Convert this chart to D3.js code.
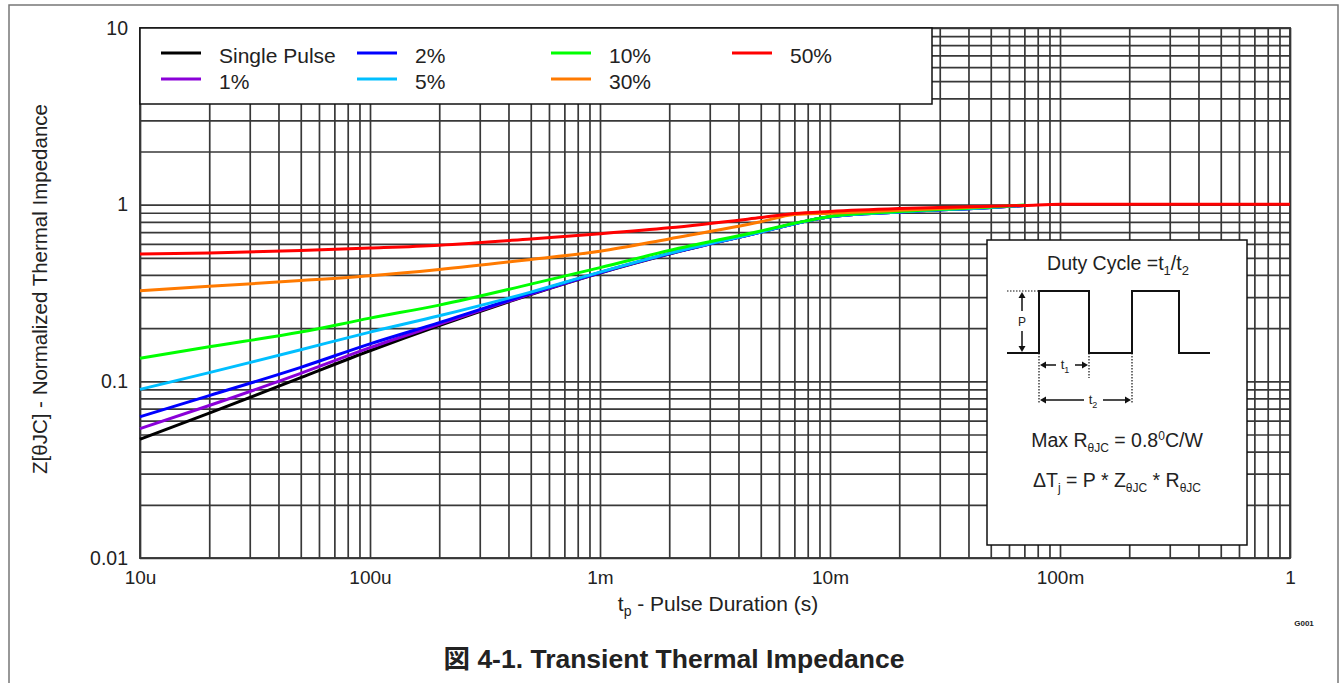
<!DOCTYPE html>
<html>
<head>
<meta charset="utf-8">
<script src="https://cdn.jsdelivr.net/npm/d3@7"></script>
<style>
  body { margin: 0; background: #fff; }
  text { font-family: "Liberation Sans", Arial, sans-serif; fill: #222; }
</style>
</head>
<body>
<script>
// pulse durations (s) at which the curves were read
var times = [1e-5, 2e-5, 5e-5, 1e-4, 2e-4, 5e-4, 1e-3, 2e-3, 5e-3, 7e-3, 1e-2, 2e-2, 5e-2, 7e-2, 1e-1, 1]

var single = [0.047, 0.066, 0.105, 0.149, 0.207, 0.31, 0.41, 0.525, 0.70, 0.78, 0.855, 0.91, 0.965, 0.99]
var duty1  = [0.054, 0.073, 0.111, 0.155, 0.21, 0.312, 0.412, 0.527, 0.70, 0.78, 0.855, 0.91, 0.965, 0.99]
var duty2  = [0.063, 0.083, 0.12, 0.163, 0.215, 0.315, 0.413, 0.528, 0.70, 0.78, 0.855, 0.91, 0.965, 0.99]
var duty5  = [0.09, 0.112, 0.151, 0.19, 0.235, 0.32, 0.415, 0.53, 0.70, 0.78, 0.855, 0.91, 0.965, 0.99]
var duty10 = [0.135, 0.157, 0.19, 0.228, 0.27, 0.355, 0.44, 0.55, 0.71, 0.785, 0.858, 0.915, 0.97, 0.995]
var duty30 = [0.326, 0.345, 0.372, 0.396, 0.43, 0.49, 0.545, 0.64, 0.80, 0.88, 0.895, 0.93, 0.975]
var duty50 = [0.526, 0.532, 0.55, 0.568, 0.59, 0.64, 0.685, 0.74, 0.845, 0.89, 0.915, 0.95, 0.98, 0.99, 1.005, 1.005]

var names  = ["Single Pulse", "1%", "2%", "5%", "10%", "30%", "50%"]
var colors = ["#000000", "#8a00d8", "#0000ff", "#00bfff", "#00ff00", "#ff7a00", "#ff0000"]
var series = [single, duty1, duty2, duty5, duty10, duty30, duty50]

var xTicks = [1e-5, 1e-4, 1e-3, 1e-2, 1e-1, 1]
var xTickLabels = ["10u", "100u", "1m", "10m", "100m", "1"]
var yTicks = [0.01, 0.1, 1, 10]
var yTickLabels = ["0.01", "0.1", "1", "10"]

var svg = d3.select("body").append("svg")
  .attr("width", 1340)
  .attr("height", 683)

// outer frame
svg.append("rect")
  .attr("x", 9).attr("y", 5)
  .attr("width", 1329).attr("height", 700)
  .attr("fill", "none").attr("stroke", "#777").attr("stroke-width", 1.5)

var pLeft = 140, pRight = 1290, pTop = 28, pBottom = 558

var x = d3.scaleLog().domain([1e-5, 1]).range([pLeft, pRight])
var y = d3.scaleLog().domain([0.01, 10]).range([pBottom, pTop])

// minor + major grid values
var xGrid = []
for (var e = -5; e < 0; e++) for (var k = 1; k < 10; k++) xGrid.push(k * Math.pow(10, e))
xGrid.push(1)
var yGrid = []
for (var e = -2; e < 1; e++) for (var k = 1; k < 10; k++) yGrid.push(k * Math.pow(10, e))
yGrid.push(10)

var gridColor = "#383838"

svg.append("g")
  .attr("class", "xgrid")
  .attr("transform", "translate(0," + pBottom + ")")
  .call(d3.axisBottom(x).tickValues(xGrid).tickSize(-(pBottom - pTop)).tickFormat(""))
  .call(g => g.select(".domain").remove())
  .selectAll("line").attr("stroke", gridColor).attr("stroke-width", 1.7)

svg.append("g")
  .attr("class", "ygrid")
  .attr("transform", "translate(" + pLeft + ",0)")
  .call(d3.axisLeft(y).tickValues(yGrid).tickSize(-(pRight - pLeft)).tickFormat(""))
  .call(g => g.select(".domain").remove())
  .selectAll("line").attr("stroke", gridColor).attr("stroke-width", 1.7)

svg.append("rect")
  .attr("x", pLeft).attr("y", pTop)
  .attr("width", pRight - pLeft).attr("height", pBottom - pTop)
  .attr("fill", "none").attr("stroke", gridColor).attr("stroke-width", 1.9)

// tick labels
svg.append("g")
  .attr("transform", "translate(0," + pBottom + ")")
  .call(d3.axisBottom(x).tickValues(xTicks).tickSize(0).tickPadding(13)
    .tickFormat((d, i) => xTickLabels[i]))
  .call(g => g.select(".domain").remove())
  .selectAll("text").style("font-size", "19px").style("font-family", "Liberation Sans, Arial, sans-serif").attr("fill", "#222")

svg.append("g")
  .attr("transform", "translate(" + pLeft + ",0)")
  .call(d3.axisLeft(y).tickValues(yTicks).tickSize(0).tickPadding(12)
    .tickFormat((d, i) => yTickLabels[i]))
  .call(g => g.select(".domain").remove())
  .selectAll("text").style("font-size", "19.5px").style("font-family", "Liberation Sans, Arial, sans-serif").attr("fill", "#222")

// curves
var line = d3.line()
  .x(d => x(d[0]))
  .y(d => y(d[1]))
  .curve(d3.curveMonotoneX)

series.forEach(function(s, i) {
  var pts = s.map((v, j) => [times[j], v])
  svg.append("path")
    .datum(pts)
    .attr("d", line)
    .attr("fill", "none")
    .attr("stroke", colors[i])
    .attr("stroke-width", 3)
})

// legend
var lgX = [161, 357, 551, 732]
var lgY = [56, 82]
svg.append("rect")
  .attr("x", pLeft).attr("y", pTop)
  .attr("width", 792).attr("height", 76)
  .attr("fill", "#fff").attr("stroke", "#111").attr("stroke-width", 1.5)

names.forEach(function(n, i) {
  var col = Math.floor(i / 2), row = i % 2
  if (i == 6) { col = 3; row = 0 }
  svg.append("line")
    .attr("x1", lgX[col]).attr("x2", lgX[col] + 40)
    .attr("y1", lgY[row] - 3).attr("y2", lgY[row] - 3)
    .attr("stroke", colors[i]).attr("stroke-width", 3)
  svg.append("text")
    .attr("x", lgX[col] + 58).attr("y", lgY[row])
    .attr("dy", "0.35em")
    .style("font-size", "21px")
    .text(n)
})

// axis titles
var xt = svg.append("text")
  .attr("x", 718).attr("y", 611)
  .attr("text-anchor", "middle")
  .style("font-size", "21px")
xt.append("tspan").text("t")
xt.append("tspan").attr("dy", 5).style("font-size", "14px").text("p")
xt.append("tspan").attr("dy", -5).text(" - Pulse Duration (s)")

svg.append("text")
  .attr("transform", "translate(47,289) rotate(-90)")
  .attr("text-anchor", "middle")
  .style("font-size", "20.5px")
  .text("Z[\u03b8JC] - Normalized Thermal Impedance")

svg.append("text")
  .attr("x", 1304).attr("y", 626)
  .attr("text-anchor", "middle")
  .style("font-size", "8px").style("font-weight", "bold")
  .attr("fill", "#555")
  .text("G001")

svg.append("text")
  .attr("x", 674).attr("y", 668)
  .attr("text-anchor", "middle")
  .style("font-size", "26.5px").style("font-weight", "bold")
  .style("font-family", "Liberation Sans, Noto Sans CJK JP, sans-serif")
  .attr("fill", "#111")
  .text("\u56f3 4-1. Transient Thermal Impedance")

// duty cycle inset
var ins = svg.append("g")
ins.append("rect")
  .attr("x", 987).attr("y", 240).attr("width", 260).attr("height", 305)
  .attr("fill", "#fff").attr("stroke", "#111").attr("stroke-width", 1.5)

var dc = ins.append("text").attr("x", 1118).attr("y", 270).attr("text-anchor", "middle").style("font-size", "19.5px")
dc.append("tspan").text("Duty Cycle =t")
dc.append("tspan").attr("dy", 5).style("font-size", "13px").text("1")
dc.append("tspan").attr("dy", -5).text("/t")
dc.append("tspan").attr("dy", 5).style("font-size", "13px").text("2")

var lo = 353, hi = 291
ins.append("path")
  .attr("d", "M1007," + lo + "H1039V" + hi + "H1089V" + lo + "H1132V" + hi + "H1179V" + lo + "H1210")
  .attr("fill", "none").attr("stroke", "#111").attr("stroke-width", 2)

var dots = "M1007," + hi + "H1038 M1039," + lo + "V403 M1089," + lo + "V378 M1132," + lo + "V403"
ins.append("path").attr("d", dots)
  .attr("fill", "none").attr("stroke", "#111").attr("stroke-width", 1.2).attr("stroke-dasharray", "1.5,1.5")

// arrows
function arrowHead(px, py, dir) {
  var s = 6, w = 3.5, d
  if (dir == "up") d = "M" + px + "," + py + "l" + (-w) + "," + s + "h" + (2 * w) + "z"
  if (dir == "down") d = "M" + px + "," + py + "l" + (-w) + "," + (-s) + "h" + (2 * w) + "z"
  if (dir == "left") d = "M" + px + "," + py + "l" + s + "," + (-w) + "v" + (2 * w) + "z"
  if (dir == "right") d = "M" + px + "," + py + "l" + (-s) + "," + (-w) + "v" + (2 * w) + "z"
  ins.append("path").attr("d", d).attr("fill", "#111")
}
ins.append("path").attr("d", "M1022,296V311 M1022,331V348").attr("stroke", "#111").attr("stroke-width", 1.5)
arrowHead(1022, hi + 1, "up"); arrowHead(1022, lo - 1, "down")
ins.append("text").attr("x", 1022).attr("y", 326).attr("text-anchor", "middle").style("font-size", "12px").text("P")

ins.append("path").attr("d", "M1044,365H1056 M1075,365H1084").attr("stroke", "#111").attr("stroke-width", 1.5)
arrowHead(1040, 365, "left"); arrowHead(1088, 365, "right")
var t1 = ins.append("text").attr("x", 1065).attr("y", 369).attr("text-anchor", "middle").style("font-size", "13px")
t1.append("tspan").text("t")
t1.append("tspan").attr("dy", 4).style("font-size", "9px").text("1")

ins.append("path").attr("d", "M1044,400H1084 M1103,400H1127").attr("stroke", "#111").attr("stroke-width", 1.5)
arrowHead(1040, 400, "left"); arrowHead(1131, 400, "right")
var t2 = ins.append("text").attr("x", 1093).attr("y", 404).attr("text-anchor", "middle").style("font-size", "13px")
t2.append("tspan").text("t")
t2.append("tspan").attr("dy", 4).style("font-size", "9px").text("2")

var mx = ins.append("text").attr("x", 1117).attr("y", 447).attr("text-anchor", "middle").style("font-size", "19.5px")
mx.append("tspan").text("Max R")
mx.append("tspan").attr("dy", 5).style("font-size", "12px").text("\u03b8JC")
mx.append("tspan").attr("dy", -5).text(" = 0.8")
mx.append("tspan").attr("dy", -7).style("font-size", "12px").text("0")
mx.append("tspan").attr("dy", 7).text("C/W")

var dt = ins.append("text").attr("x", 1117).attr("y", 487).attr("text-anchor", "middle").style("font-size", "19.5px")
dt.append("tspan").text("\u0394T")
dt.append("tspan").attr("dy", 5).style("font-size", "12px").text("j")
dt.append("tspan").attr("dy", -5).text(" = P * Z")
dt.append("tspan").attr("dy", 5).style("font-size", "12px").text("\u03b8JC")
dt.append("tspan").attr("dy", -5).text(" * R")
dt.append("tspan").attr("dy", 5).style("font-size", "12px").text("\u03b8JC")
</script>
</body>
</html>
